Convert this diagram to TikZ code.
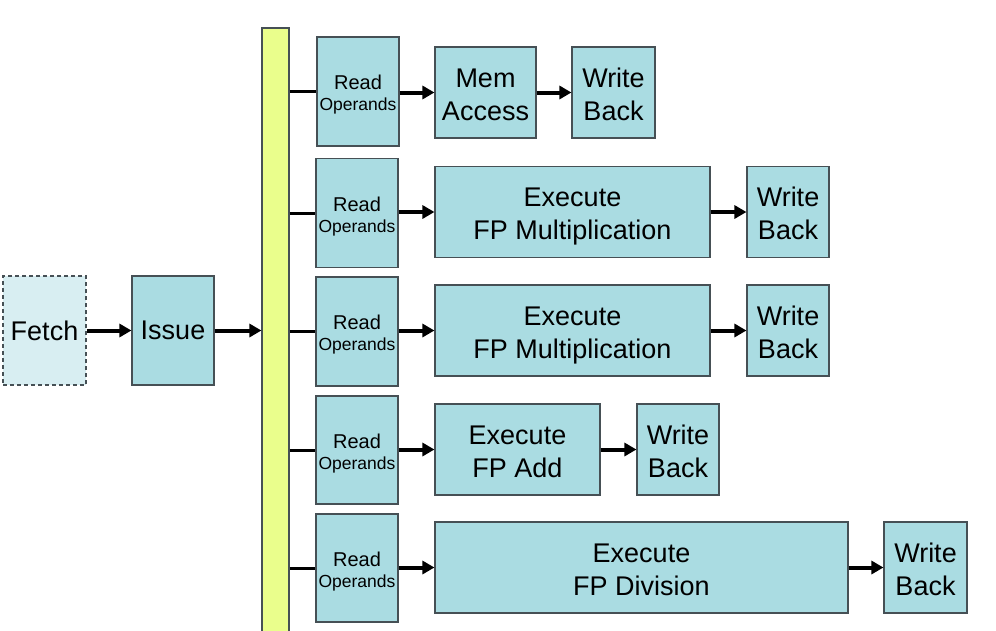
\documentclass[tikz,border=0pt]{standalone}
\usepackage{fontspec}
\setmainfont{Liberation Sans}
\usetikzlibrary{arrows.meta}
\definecolor{boxfill}{RGB}{170,220,226}
\definecolor{fetchfill}{RGB}{216,238,242}
\definecolor{barfill}{RGB}{234,254,140}
\definecolor{edge}{RGB}{70,80,85}
\tikzset{
  stage/.style={draw=edge, line width=1.1pt, fill=boxfill, inner sep=0pt, align=center,
     font=\fontsize{27}{33}\selectfont},
  twoline/.style={stage, text height=55pt, text depth=0pt},
  rostage/.style={stage, font=\fontsize{20}{22}\selectfont, text height=38.5pt, text depth=0pt},
  flow/.style={line width=4pt, -{Triangle[length=12pt,width=13pt]}},
  tap/.style={line width=3pt},
}
\begin{document}
\begin{tikzpicture}[x=1pt,y=-1pt]
\useasboundingbox (0,0) rectangle (996,630);
% fetch / issue
\node[stage, fill=fetchfill, dash pattern=on 4pt off 3pt, minimum width=83pt, minimum height=109pt] (fetch) at (44.5,330.5) {Fetch};
\node[stage, minimum width=82pt, minimum height=109pt] (issue) at (173,330.5) {Issue};
% bar
\node[draw=edge, line width=1.1pt, fill=barfill, inner sep=0pt, minimum width=27pt, minimum height=604pt] (bar) at (275.5,330) {};
\draw[flow] (fetch.east) -- (issue.west);
\draw[flow] (issue.east) -- (issue.east -| bar.west);
% read operands
\newcommand{\ro}{Read\\[-1pt]{\fontsize{17.5}{20}\selectfont Operands}}
\node[rostage, minimum width=82pt, minimum height=109pt] (ro1) at (358,91.5) {\ro};
\node[rostage, minimum width=82pt, minimum height=109pt] (ro2) at (357,213) {\ro};
\node[rostage, minimum width=82pt, minimum height=109pt] (ro3) at (357,331.5) {\ro};
\node[rostage, minimum width=82pt, minimum height=108pt] (ro4) at (357,450) {\ro};
\node[rostage, minimum width=82pt, minimum height=108pt] (ro5) at (357,568) {\ro};
% row 1
\node[twoline, minimum width=101pt, minimum height=91pt] (ma) at (485.5,92.5) {Mem\\Access};
\node[twoline, minimum width=83pt, minimum height=91pt] (wb1) at (613.5,92.5) {Write\\Back};
% row 2
\node[twoline, minimum width=275pt, minimum height=91pt] (ex2) at (572.5,212) {Execute\\FP Multiplication};
\node[twoline, minimum width=82pt, minimum height=91pt] (wb2) at (788,212) {Write\\Back};
% row 3
\node[twoline, minimum width=275pt, minimum height=91pt] (ex3) at (572.5,330.5) {Execute\\FP Multiplication};
\node[twoline, minimum width=82pt, minimum height=91pt] (wb3) at (788,330.5) {Write\\Back};
% row 4
\node[twoline, minimum width=165pt, minimum height=91pt] (ex4) at (517.5,449.5) {Execute\\FP Add};
\node[twoline, minimum width=82pt, minimum height=91pt] (wb4) at (678,449.5) {Write\\Back};
% row 5
\node[twoline, minimum width=413pt, minimum height=91pt] (ex5) at (641.5,567.5) {Execute\\FP Division};
\node[twoline, minimum width=83pt, minimum height=91pt] (wb5) at (925.5,567.5) {Write\\Back};
% taps from bar
\foreach \r in {ro1,ro2,ro3,ro4,ro5}
  \draw[tap] (bar.east |- \r.west) -- (\r.west);
% flows
\draw[flow] (ro1.east |- ma.west) -- (ma.west);
\draw[flow] (ma.east) -- (wb1.west);
\draw[flow] (ro2.east |- ex2.west) -- (ex2.west);
\draw[flow] (ex2.east) -- (wb2.west);
\draw[flow] (ro3.east |- ex3.west) -- (ex3.west);
\draw[flow] (ex3.east) -- (wb3.west);
\draw[flow] (ro4.east |- ex4.west) -- (ex4.west);
\draw[flow] (ex4.east) -- (wb4.west);
\draw[flow] (ro5.east |- ex5.west) -- (ex5.west);
\draw[flow] (ex5.east) -- (wb5.west);
\end{tikzpicture}
\end{document}
